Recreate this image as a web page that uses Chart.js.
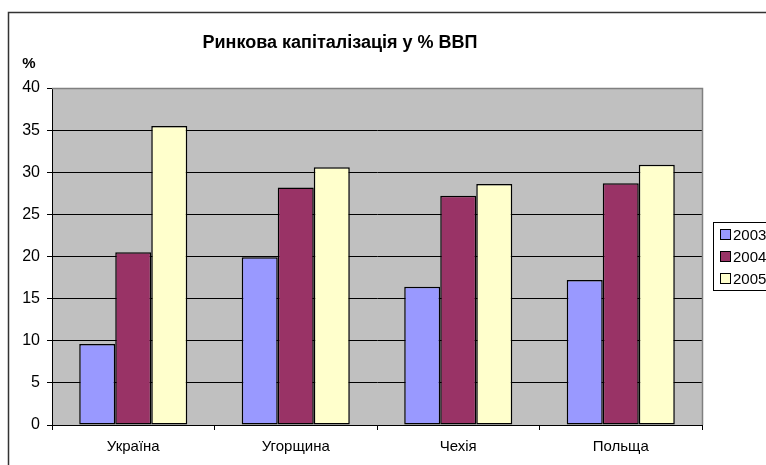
<!DOCTYPE html>
<html>
<head>
<meta charset="utf-8">
<script src="https://cdn.jsdelivr.net/npm/chart.js@4/dist/chart.umd.min.js"></script>
<style>
html,body{margin:0;padding:0;background:#fff;}
canvas{display:block;}
</style>
</head>
<body>
<canvas id="c" width="766" height="465"></canvas>
<script>
const chartTitle = 'Ринкова капіталізація у % ВВП';
const unitLabel = '%';
const categories = ['Україна', 'Угорщина', 'Чехія', 'Польща'];
const seriesNames = ['2003', '2004', '2005'];
const values2003 = [9.6, 19.9, 16.4, 17.2];
const values2004 = [20.5, 28.2, 27.2, 28.7];
const values2005 = [35.5, 30.6, 28.6, 30.9];
const seriesColors = ['#9999FF', '#993366', '#FFFFCC'];
const yTicks = [0, 5, 10, 15, 20, 25, 30, 35, 40];

const FONT = "'Liberation Sans', Arial, sans-serif";

const decor = {
  id: 'decor',
  beforeDraw(chart) {
    const ctx = chart.ctx, a = chart.chartArea;
    ctx.save();
    ctx.fillStyle = '#fff';
    ctx.fillRect(0, 0, chart.width, chart.height);
    ctx.strokeStyle = '#333';
    ctx.lineWidth = 1.5;
    ctx.strokeRect(8.5, 12.5, 900, 600);
    ctx.fillStyle = '#C0C0C0';
    ctx.fillRect(a.left, a.top, a.right - a.left, a.bottom - a.top);
    ctx.restore();
  },
  afterDraw(chart) {
    const ctx = chart.ctx, a = chart.chartArea;
    ctx.save();
    ctx.strokeStyle = '#808080';
    ctx.lineWidth = 1.5;
    ctx.beginPath();
    ctx.moveTo(a.left, a.top + 0.5);
    ctx.lineTo(a.right + 0.5, a.top + 0.5);
    ctx.lineTo(a.right + 0.5, a.bottom);
    ctx.stroke();
    ctx.fillStyle = '#000';
    ctx.font = 'bold 18px ' + FONT;
    ctx.textAlign = 'center';
    ctx.textBaseline = 'alphabetic';
    ctx.fillText(chartTitle, 340, 48);
    ctx.font = 'bold 15px ' + FONT;
    ctx.fillText(unitLabel, 29, 68);
    const lx = 713.5, ly = 222.5;
    ctx.strokeStyle = '#000';
    ctx.lineWidth = 1;
    ctx.fillStyle = '#fff';
    ctx.fillRect(lx, ly, 100, 68);
    ctx.strokeRect(lx, ly, 100, 68);
    ctx.font = '15px ' + FONT;
    ctx.textAlign = 'left';
    ctx.textBaseline = 'middle';
    chart.data.datasets.forEach((ds, i) => {
      const cy = 235 + i * 22;
      ctx.fillStyle = ds.backgroundColor;
      ctx.fillRect(720.5, cy - 5.5, 10, 10);
      ctx.strokeRect(720.5, cy - 5.5, 10, 10);
      ctx.fillStyle = '#000';
      ctx.fillText(ds.label, 733, cy + 1);
    });
    ctx.restore();
  }
};

const seriesValues = [values2003, values2004, values2005];

new Chart(document.getElementById('c'), {
  type: 'bar',
  data: {
    labels: categories,
    datasets: seriesNames.map((n, i) => ({
      label: n,
      data: seriesValues[i],
      backgroundColor: seriesColors[i],
      borderColor: '#000',
      borderWidth: 1.5,
      borderSkipped: false,
      categoryPercentage: 0.665,
      barPercentage: 1.0
    }))
  },
  options: {
    responsive: false,
    animation: false,
    devicePixelRatio: 1,
    layout: { padding: { top: 88, right: 64, left: 0, bottom: 0 } },
    plugins: {
      legend: { display: false },
      title: { display: false },
      tooltip: { enabled: false }
    },
    scales: {
      x: {
        afterFit(s) { s.height = 40; },
        grid: { display: true, offset: true, drawOnChartArea: false, drawTicks: true, tickLength: 5, color: '#000', lineWidth: 1 },
        border: { display: true, color: '#000', width: 1 },
        ticks: { color: '#000', font: { family: FONT, size: 15 }, padding: 8, maxRotation: 0 }
      },
      y: {
        min: 0, max: 40,
        afterFit(s) { s.width = 52; },
        afterBuildTicks(s) { s.ticks = yTicks.map(v => ({ value: v })); },
        grid: { color: '#000', lineWidth: 1, tickLength: 5, drawTicks: true },
        border: { display: true, color: '#000', width: 1 },
        ticks: { color: '#000', font: { family: FONT, size: 16 }, padding: 7 }
      }
    }
  },
  plugins: [decor]
});
</script>
</body>
</html>
